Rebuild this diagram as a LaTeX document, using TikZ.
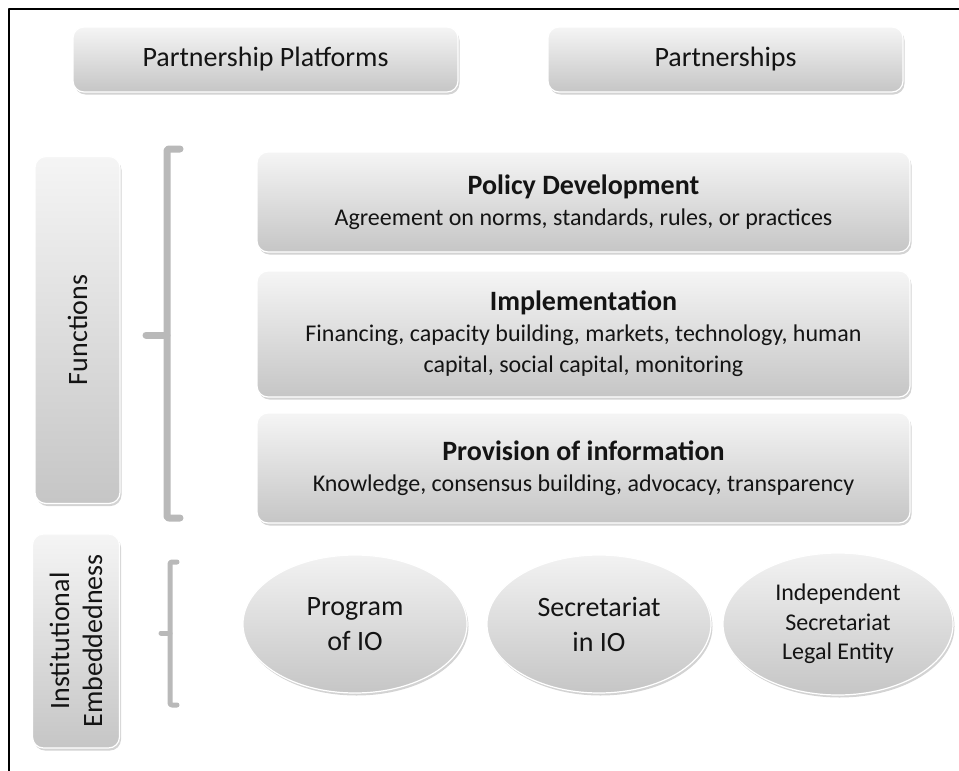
\documentclass[tikz,border=0pt]{standalone}
\usepackage{fontspec}
\setmainfont{Carlito}
\usetikzlibrary{shadows,shapes.geometric}
\definecolor{inkgray}{HTML}{141414}
\tikzset{
  panel/.style={rounded corners=11bp,top color=gray!8,bottom color=gray!45,
    draw=white,line width=1.2bp,inner sep=0pt,align=center,text=inkgray,
    drop shadow={shadow xshift=1.5bp,shadow yshift=-2.5bp,opacity=0.35}},
  oval/.style={ellipse,top color=gray!10,bottom color=gray!45,draw=white,
    line width=1.2bp,inner sep=0pt,align=center,text=inkgray,
    drop shadow={shadow xshift=1.5bp,shadow yshift=-2.5bp,opacity=0.35}},
  brace/.style={draw=gray!55,line cap=round,rounded corners=2bp},
  titlefont/.style={font=\fontsize{28bp}{33bp}\selectfont},
  bodyfont/.style={font=\fontsize{24bp}{31bp}\selectfont},
}
\newcommand{\headline}[1]{{\fontsize{28bp}{31bp}\selectfont\bfseries #1}}
\begin{document}
\begin{tikzpicture}[line join=bevel]
\useasboundingbox (0,0) rectangle (959bp,-771bp);
%%
\draw [line width=2bp] (9bp,-771bp) -- (9bp,-9bp) -- (959bp,-9bp);
%
\node (node_plat) at (265.5bp,-59.5bp) [panel,minimum width=385bp,minimum height=65bp,titlefont] {Partnership Platforms};
  \node (node_partn) at (725.5bp,-59.5bp) [panel,minimum width=355bp,minimum height=65bp,titlefont] {Partnerships};
  \node (node_func) at (77.5bp,-330bp) [panel,rotate=90,minimum width=347bp,minimum height=85bp,titlefont] {Functions};
  \node (node_inst) at (76bp,-641bp) [panel,rotate=90,minimum width=214bp,minimum height=87bp,titlefont] {Institutional\\Embeddedness};
  \node (node_policy) at (583.5bp,-202bp) [panel,minimum width=653bp,minimum height=100bp,bodyfont] {\headline{Policy Development}\\Agreement on norms, standards, rules, or practices};
  \node (node_impl) at (583.5bp,-334bp) [panel,minimum width=653bp,minimum height=126bp,bodyfont] {\headline{Implementation}\\Financing, capacity building, markets, technology, human\\capital, social capital, monitoring};
  \node (node_prov) at (583.5bp,-468bp) [panel,minimum width=653bp,minimum height=110bp,bodyfont] {\headline{Provision of information}\\Knowledge, consensus building, advocacy, transparency};
  \node (node_prog) at (355bp,-624bp) [oval,minimum width=224bp,minimum height=138bp,font=\fontsize{28bp}{35bp}\selectfont] {Program\\of IO};
  \node (node_secr) at (599bp,-624bp) [oval,minimum width=224bp,minimum height=138bp,font=\fontsize{28bp}{35bp}\selectfont] {Secretariat\\in IO};
  \node (node_indep) at (838bp,-624bp) [oval,minimum width=230bp,minimum height=142bp,font=\fontsize{24bp}{29.5bp}\selectfont] {Independent\\Secretariat\\Legal Entity};
%
\draw [brace,line width=7bp] (180bp,-149bp) -- (167bp,-149bp) -- (167bp,-518bp) -- (180bp,-518bp);
  \draw [brace,line width=7bp] (146bp,-335bp) -- (167bp,-335bp);
  \draw [brace,line width=5bp] (177bp,-562bp) -- (170bp,-562bp) -- (170bp,-705bp) -- (177bp,-705bp);
  \draw [brace,line width=5bp] (161bp,-633bp) -- (170bp,-633bp);
%
\end{tikzpicture}
\end{document}
